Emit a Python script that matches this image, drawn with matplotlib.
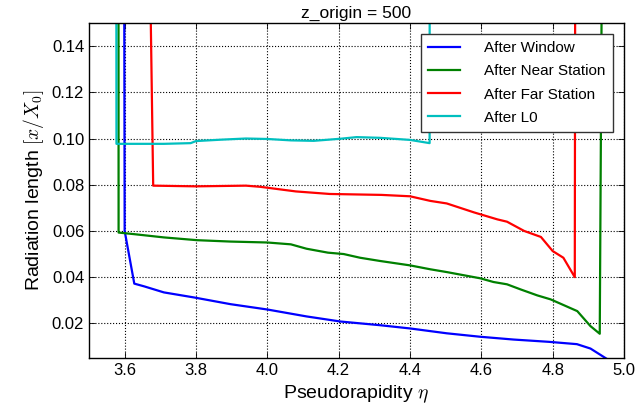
import numpy as np
import matplotlib
matplotlib.use("Agg")
import matplotlib.pyplot as plt

plt.rcParams['font.family'] = ['Liberation Sans', 'DejaVu Sans']
plt.rcParams['mathtext.fontset'] = 'cm'

# After Window
eta_win = [3.595, 3.600, 3.627, 3.655, 3.71, 3.795, 3.897, 4.0, 4.11, 4.205, 4.316,
           4.40, 4.503, 4.597, 4.69, 4.79, 4.868, 4.906, 4.95]
x0_win = [0.5, 0.060, 0.0372, 0.036, 0.0334, 0.0312, 0.0283, 0.026, 0.023, 0.0208, 0.0192,
          0.0178, 0.0157, 0.0142, 0.013, 0.012, 0.011, 0.0091, 0.0048]

# After Near Station
eta_near = [3.582, 3.583, 3.627, 3.71, 3.803, 3.897, 4.0, 4.066, 4.11, 4.17, 4.214, 4.26,
            4.316, 4.40, 4.457, 4.503, 4.597, 4.634, 4.672, 4.71, 4.757, 4.794, 4.822,
            4.869, 4.906, 4.932, 4.95]
x0_near = [0.5, 0.0593, 0.0586, 0.0572, 0.056, 0.0554, 0.055, 0.0542, 0.0523, 0.0506, 0.050,
           0.0484, 0.047, 0.0451, 0.0434, 0.0422, 0.0395, 0.0379, 0.0369, 0.0347, 0.0321,
           0.0304, 0.0285, 0.0253, 0.0188, 0.0155, 0.5]

# After Far Station
eta_far = [3.640, 3.68, 3.80, 3.94, 3.98, 4.08, 4.175, 4.32, 4.40, 4.457, 4.503, 4.58,
           4.645, 4.672, 4.72, 4.767, 4.80, 4.83, 4.862, 4.866]
x0_far = [0.5, 0.0796, 0.0793, 0.0796, 0.0791, 0.0771, 0.076, 0.0756, 0.075, 0.073, 0.0719,
          0.068, 0.065, 0.064, 0.060, 0.0574, 0.0513, 0.0484, 0.040, 0.5]

# After L0
eta_l0 = [3.575, 3.577, 3.71, 3.785, 3.80, 3.87, 3.94, 4.0, 4.066, 4.13, 4.205, 4.25,
          4.316, 4.40, 4.455, 4.456]
x0_l0 = [0.5, 0.0977, 0.0977, 0.098, 0.0989, 0.0995, 0.100, 0.0998, 0.0992, 0.099, 0.0999,
         0.1006, 0.1003, 0.0994, 0.098, 0.5]

fig = plt.figure(figsize=(6.37, 4.15), dpi=100)
ax = fig.add_axes([0.1397, 0.1373, 0.8399, 0.8073])

ax.plot(eta_win, x0_win, color='blue', lw=1.6, label='After Window')
ax.plot(eta_near, x0_near, color='green', lw=1.6, label='After Near Station')
ax.plot(eta_far, x0_far, color='red', lw=1.6, label='After Far Station')
ax.plot(eta_l0, x0_l0, color='c', lw=1.6, label='After L0')

ax.set_xlim(3.5, 5.0)
ax.set_ylim(0.005, 0.15)
ax.set_xticks([3.6, 3.8, 4.0, 4.2, 4.4, 4.6, 4.8, 5.0])
ax.set_yticks([0.02, 0.04, 0.06, 0.08, 0.10, 0.12, 0.14])
ax.xaxis.set_major_formatter(matplotlib.ticker.FormatStrFormatter('%.1f'))
ax.yaxis.set_major_formatter(matplotlib.ticker.FormatStrFormatter('%.2f'))
ax.tick_params(direction='in', top=True, right=True, labelsize=12, length=4, width=0.6)
ax.grid(True, color='black', linestyle=':', linewidth=0.8)

for s in ax.spines.values():
    s.set_linewidth(1.0)

ax.set_xlabel(r'Pseudorapidity $\eta$', fontsize=14)
ax.set_ylabel(r'Radiation length $[x/X_0]$', fontsize=14)
ax.set_title('z_origin = 500', fontsize=12.5, pad=4)

leg = ax.legend(loc='upper right', fontsize=11, fancybox=False, framealpha=1,
                borderaxespad=0.75, handlelength=2.1, handletextpad=1.6,
                labelspacing=0.6, borderpad=0.45)
leg.get_frame().set_edgecolor('#333333')

fig.savefig('out.png', dpi=100)
